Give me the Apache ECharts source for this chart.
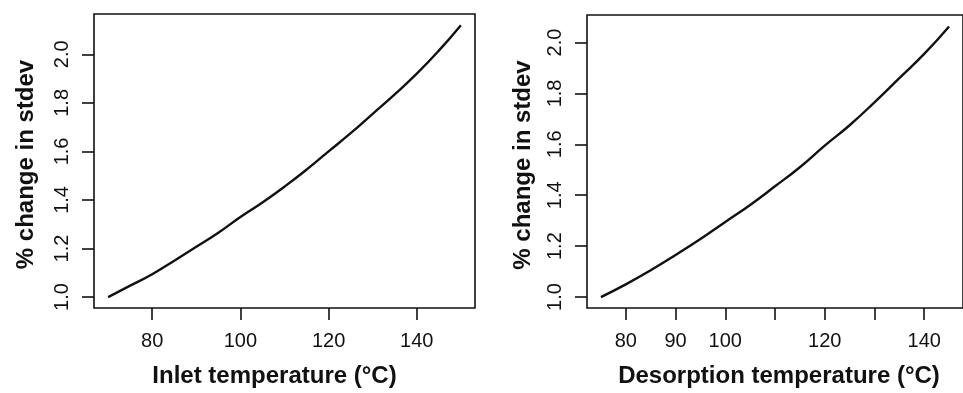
<!DOCTYPE html>
<html>
<head>
<meta charset="utf-8">
<script src="https://cdn.jsdelivr.net/npm/echarts@6/dist/echarts.min.js"></script>
<style>
  html, body { margin: 0; padding: 0; background: #fff; }
  #container { width: 963px; height: 393px; }
</style>
</head>
<body>
<div id="container"></div>
<script>
// values
const inletTemps = [70, 75, 80, 85, 90, 95, 100, 105, 110, 115, 120, 125, 130, 135, 140, 145, 150];
const inletStdev = [1.00, 1.047, 1.094, 1.15, 1.207, 1.265, 1.33, 1.39, 1.455, 1.525, 1.60, 1.675, 1.755, 1.835, 1.92, 2.015, 2.12];

const desorpTemps = [75, 80, 85, 90, 95, 100, 105, 110, 115, 120, 125, 130, 135, 140, 145];
const desorpStdev = [1.00, 1.05, 1.105, 1.165, 1.228, 1.295, 1.362, 1.435, 1.51, 1.595, 1.675, 1.765, 1.86, 1.955, 2.063];

const yTicks = [1.0, 1.2, 1.4, 1.6, 1.8, 2.0];
const inletXTicks = [80, 100, 120, 140];
const desorpXTicks = [80, 90, 100, 110, 120, 130, 140];
const desorpXLabels = [80, 90, 100, 120, 140];

let dom = document.getElementById('container');
let myChart = echarts.init(dom);

const font = '"Liberation Sans", Arial, sans-serif';

function pairs(xs, ys) {
    return xs.map((x, i) => [x, ys[i]]);
}

function xAxisFor(idx, min, max, ticks, labels, name, pad) {
    return {
        type: 'value',
        gridIndex: idx,
        min: min,
        max: max,
        name: name,
        nameLocation: 'middle',
        nameGap: 56,
        nameTextStyle: { color: '#111', fontSize: 24, fontWeight: 'bold', fontFamily: font, padding: pad },
        axisLine: { show: false },
        axisTick: { show: true, inside: false, length: 12, customValues: ticks,
            lineStyle: { color: '#111', width: 1.6 } },
        axisLabel: { customValues: labels, margin: 23, color: '#111', fontSize: 20, fontFamily: font },
        splitLine: { show: false }
    };
}

function yAxisFor(idx, min, max, gap) {
    return {
        type: 'value',
        gridIndex: idx,
        min: min,
        max: max,
        name: '% change in stdev',
        nameLocation: 'middle',
        nameGap: gap,
        nameTextStyle: { color: '#111', fontSize: 24, fontWeight: 'bold', fontFamily: font, padding: [0, 7, 0, 0] },
        axisLine: { show: false },
        axisTick: { show: true, inside: false, length: 12, customValues: yTicks,
            lineStyle: { color: '#111', width: 1.6 } },
        axisLabel: { customValues: yTicks, rotate: 90, margin: 22, color: '#111', fontSize: 20,
            fontFamily: font, formatter: (v) => v.toFixed(1) },
        splitLine: { show: false }
    };
}

const option = {
    backgroundColor: '#fff',
    animation: false,
    grid: [
        { left: 94, top: 14, width: 381, height: 295, show: true, borderColor: '#111', borderWidth: 1.6 },
        { left: 587, top: 15, width: 384, height: 295, show: true, borderColor: '#111', borderWidth: 1.6 }
    ],
    xAxis: [
        xAxisFor(0, 66.8, 153.2, inletXTicks, inletXTicks, 'Inlet temperature (°C)', [0, 20, 0, 0]),
        xAxisFor(1, 72.2, 147.8, desorpXTicks, desorpXLabels, 'Desorption temperature (°C)', [0, 0, 0, 8])
    ],
    yAxis: [
        yAxisFor(0, 0.955, 2.166, 56),
        yAxisFor(1, 0.957, 2.108, 52)
    ],
    series: [
        {
            type: 'line',
            xAxisIndex: 0,
            yAxisIndex: 0,
            data: pairs(inletTemps, inletStdev),
            smooth: true,
            showSymbol: false,
            lineStyle: { color: '#111', width: 2.4 }
        },
        {
            type: 'line',
            xAxisIndex: 1,
            yAxisIndex: 1,
            data: pairs(desorpTemps, desorpStdev),
            smooth: true,
            showSymbol: false,
            lineStyle: { color: '#111', width: 2.4 }
        }
    ]
};

myChart.setOption(option);
</script>
</body>
</html>
